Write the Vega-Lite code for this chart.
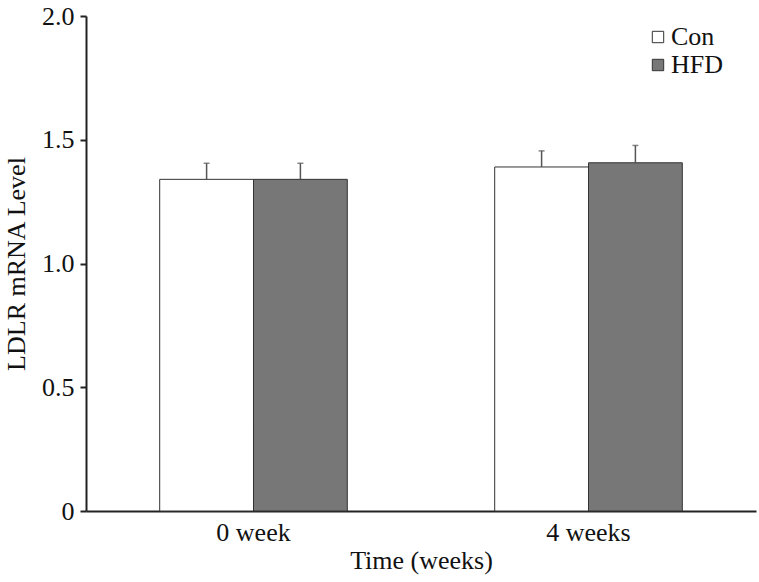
{
  "$schema": "https://vega.github.io/schema/vega-lite/v6.json",
  "width": 670,
  "height": 495,
  "autosize": "none",
  "padding": {"left": 86, "top": 16, "right": 3, "bottom": 71},
  "background": "white",
  "config": {
    "view": {"stroke": null},
    "font": "Liberation Serif",
    "axis": {"labelFont": "Liberation Serif", "titleFont": "Liberation Serif", "labelColor": "#111", "titleColor": "#111", "titleFontWeight": "normal", "grid": false, "domainColor": "#222", "domainWidth": 2, "tickColor": "#222", "tickWidth": 2},
    "legend": {"labelFont": "Liberation Serif"}
  },
  "data": {
    "values": [
      {"time": "0 week", "group": "Con", "value": 1.34, "err": 0.065},
      {"time": "0 week", "group": "HFD", "value": 1.34, "err": 0.065},
      {"time": "4 weeks", "group": "Con", "value": 1.39, "err": 0.065},
      {"time": "4 weeks", "group": "HFD", "value": 1.407, "err": 0.07}
    ]
  },
  "transform": [{"calculate": "datum.value + datum.err", "as": "upper"}],
  "encoding": {
    "x": {
      "field": "time", "type": "nominal", "sort": ["0 week", "4 weeks"],
      "scale": {"paddingInner": 0.44, "paddingOuter": 0.22},
      "axis": {"title": "Time (weeks)", "labelAngle": 0, "ticks": false, "labelFontSize": 26, "titleFontSize": 26, "labelPadding": 8, "titlePadding": 2}
    },
    "xOffset": {"field": "group", "type": "nominal", "sort": ["Con", "HFD"], "scale": {"paddingInner": 0, "paddingOuter": 0}}
  },
  "layer": [
    {
      "mark": {"type": "bar", "stroke": "#333", "strokeWidth": 1},
      "encoding": {
        "y": {
          "field": "value", "type": "quantitative",
          "scale": {"domain": [0, 2], "nice": false},
          "axis": {"title": "LDLR mRNA Level", "values": [0, 0.5, 1, 1.5, 2], "labelExpr": "datum.value == 0 ? '0' : format(datum.value, '.1f')", "labelFontSize": 26, "titleFontSize": 26, "tickSize": 6, "labelPadding": 6, "titlePadding": 12}
        },
        "fill": {
          "field": "group", "type": "nominal",
          "scale": {"domain": ["Con", "HFD"], "range": ["#ffffff", "#777777"]},
          "legend": {"title": null, "orient": "none", "legendX": 559, "legendY": 8, "symbolType": "square", "symbolSize": 130, "symbolStrokeColor": "#333", "symbolStrokeWidth": 1, "labelFontSize": 26, "labelColor": "#111", "rowPadding": 2, "labelOffset": 0}
        }
      }
    },
    {
      "mark": {"type": "rule", "color": "#555", "strokeWidth": 1.5},
      "encoding": {
        "y": {"field": "value", "type": "quantitative"},
        "y2": {"field": "upper"}
      }
    },
    {
      "mark": {"type": "tick", "color": "#555", "thickness": 1.5, "size": 6, "orient": "horizontal"},
      "encoding": {
        "y": {"field": "upper", "type": "quantitative"}
      }
    }
  ]
}
